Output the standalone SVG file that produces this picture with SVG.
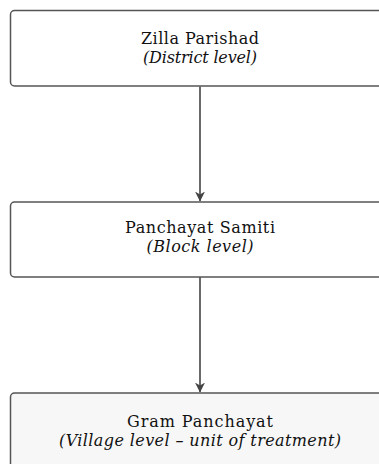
<svg xmlns="http://www.w3.org/2000/svg" width="379" height="464" viewBox="0 0 379 464">
<style>
.box{stroke:#555;stroke-width:1.5;fill:#fff}
.box.last{fill:#f7f7f7}
.t{font-family:"DejaVu Serif","Liberation Serif",serif;font-size:16px;fill:#111;text-anchor:middle}
.i{font-style:italic}
.edge{stroke:#444;stroke-width:1.6;fill:none}
</style>
<defs>
<marker id="arr" viewBox="0 0 10 10" refX="9.5" refY="5" markerWidth="10" markerHeight="10" orient="auto" markerUnits="userSpaceOnUse">
<path d="M0,0 L10,5 L0,10 L3,5 z" fill="#444"/>
</marker>
</defs>
<rect width="379" height="464" fill="#fff"/>
<g id="connectors">
<path class="edge" d="M200,86.5 V201" marker-end="url(#arr)"/>
<path class="edge" d="M200,277 V392" marker-end="url(#arr)"/>
</g>
<g id="zilla">
<rect class="box" x="10.5" y="10.5" width="390" height="75.5" rx="4"/>
<text class="t" x="200" y="43.5" textLength="118" lengthAdjust="spacing">Zilla Parishad</text>
<text class="t i" x="200" y="62.5" textLength="114" lengthAdjust="spacing">(District level)</text>
</g>
<g id="samiti">
<rect class="box" x="10.5" y="202" width="390" height="75" rx="4"/>
<text class="t" x="200" y="232.5" textLength="150" lengthAdjust="spacing">Panchayat Samiti</text>
<text class="t i" x="200" y="251.5" textLength="107" lengthAdjust="spacing">(Block level)</text>
</g>
<g id="gram">
<rect class="box last" x="10.5" y="393" width="390" height="90" rx="4"/>
<text class="t" x="200" y="426.5" textLength="146" lengthAdjust="spacing">Gram Panchayat</text>
<text class="t i" x="200" y="445.5" textLength="282" lengthAdjust="spacing">(Village level – unit of treatment)</text>
</g>
</svg>
